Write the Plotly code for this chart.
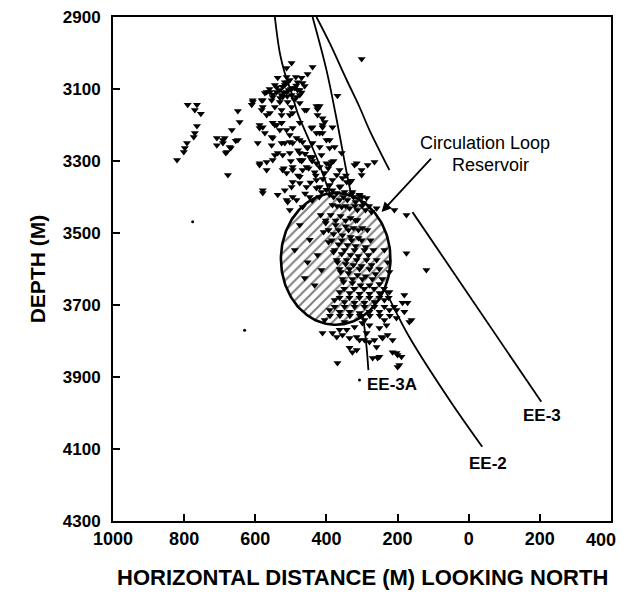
import numpy as np
import plotly.graph_objects as go

# ---------------- data (distance in m: positive = left of origin, depth in m) -------------
west_dist = [790, 764, 770, 753, 764, 770, 773, 792, 798, 801, 820,
             649, 644, 666, 708, 686, 708, 691, 655, 649, 669, 683, 677, 691, 680, 672]
west_depth = [3144, 3144, 3158, 3169, 3203, 3222, 3233, 3250, 3264, 3275, 3297,
              3161, 3192, 3214, 3236, 3236, 3256, 3250, 3244, 3242, 3264, 3278, 3339, 3242, 3275, 3261]

upper_dist = [301, 498, 512, 439, 453, 537, 509, 481, 467, 523, 495, 475, 540, 512, 573, 551, 526, 498,
              484, 582, 554, 531, 509, 369, 607, 579, 545, 498, 461, 428, 425, 568, 559, 526, 503, 411,
              405, 579, 540, 495, 442,
              517, 503, 489, 531, 545, 475, 486, 523, 506, 559, 461, 470,
              610, 607, 579, 582, 588, 568, 526, 495, 475, 456, 526, 551, 512, 475, 439, 419, 425, 411, 383,
              512, 481, 517,
              560, 540, 520, 500, 485, 530, 510, 490, 550, 470]
upper_depth = [3017, 3028, 3042, 3039, 3058, 3069, 3081, 3081, 3083, 3094, 3097, 3103, 3108, 3108, 3111,
               3122, 3117, 3117, 3122, 3131, 3131, 3136, 3136, 3119, 3136, 3150, 3150, 3150, 3158, 3147,
               3156, 3172, 3167, 3172, 3172, 3181, 3192, 3206, 3200, 3208, 3208,
               3089, 3075, 3097, 3103, 3089, 3117, 3067, 3122, 3103, 3108, 3092, 3069,
               3144, 3131, 3131, 3158, 3200, 3108, 3158, 3167, 3139, 3158, 3194, 3194, 3214, 3194, 3206,
               3147, 3172, 3206, 3206,
               3067, 3103, 3081,
               3100, 3095, 3110, 3100, 3090, 3125, 3120, 3130, 3115, 3110]

middle_dist = [588, 573, 545, 526, 531, 503, 484, 495, 467, 453, 554, 593, 554, 526, 537, 523, 503, 475,
               467, 447, 428, 414, 400, 385, 411, 419, 391, 377, 357, 588, 568, 523, 495, 467, 433, 405,
               371, 355, 315, 301, 284, 265, 579, 579, 537, 517, 495, 475, 456, 428, 414, 509, 503, 484,
               467, 447, 391, 363, 335, 327, 307, 287, 259, 209, 175,
               588, 568, 551, 517, 551, 503, 475, 456, 439, 419, 400, 391, 428, 411, 545, 439, 475, 495,
               456, 419, 391, 363, 512, 475, 428, 383, 343, 498, 419, 383, 495, 512, 321, 301,
               480, 460, 440, 470, 450, 430, 410, 445, 400, 380, 395, 500, 520, 480, 460, 440, 420, 360,
               345, 330]
middle_depth = [3208, 3222, 3200, 3194, 3214, 3228, 3236, 3250, 3247, 3264, 3233, 3250, 3256, 3250, 3278,
                3283, 3278, 3278, 3297, 3289, 3306, 3283, 3306, 3303, 3200, 3222, 3242, 3261, 3278, 3306,
                3303, 3325, 3325, 3325, 3331, 3333, 3339, 3347, 3306, 3325, 3311, 3303, 3381, 3389, 3394,
                3381, 3358, 3361, 3372, 3375, 3386, 3414, 3436, 3408, 3428, 3400, 3367, 3372, 3361, 3386,
                3394, 3403, 3431, 3436, 3450,
                3311, 3325, 3297, 3250, 3236, 3247, 3242, 3261, 3250, 3261, 3242, 3264, 3222, 3222, 3283,
                3289, 3297, 3317, 3317, 3317, 3311, 3325, 3333, 3344, 3353, 3353, 3358, 3372, 3372, 3381,
                3400, 3408, 3311, 3339,
                3270, 3280, 3300, 3300, 3320, 3340, 3350, 3360, 3380, 3300, 3320, 3300, 3320, 3340, 3390,
                3410, 3400, 3370, 3340, 3355]

reservoir_dist = [391, 371, 349, 329, 307, 363, 341, 318, 296, 383, 357, 335, 313, 290, 273,
                  416, 388, 360, 332, 313, 402, 374, 346, 324, 299, 408, 380, 355, 332, 310, 394, 366, 341,
                  318, 290, 380, 357, 332, 310, 282, 369, 346, 324, 301, 273, 360, 338, 313, 290, 262, 352,
                  327, 304, 279, 251,
                  475, 447, 425, 453, 414, 433, 489, 461,
                  363, 335, 307, 279, 251, 223, 377, 349, 321, 293, 265, 237, 391, 363, 335, 307, 279, 251,
                  223, 405, 349, 293, 237, 203,
                  237, 228, 223,
                  402, 374, 346, 318, 394, 366, 338, 310, 285, 385, 357, 329, 301, 276, 377, 349, 321, 293,
                  268, 371, 343, 315, 287, 259, 363, 335, 307, 279, 251, 355, 327, 299, 271, 243,
                  380, 352, 324, 300, 370, 346, 320, 300, 280,
                  350, 322, 294, 266, 238, 363, 335, 307, 279, 251, 225, 377, 349, 321, 293, 265, 237, 210,
                  390, 362, 334, 306, 278, 250, 222]
reservoir_depth = [3394, 3389, 3386, 3392, 3397, 3408, 3408, 3414, 3417, 3422, 3428, 3431, 3436, 3436, 3442,
                   3450, 3450, 3453, 3458, 3464, 3472, 3478, 3481, 3486, 3486, 3497, 3503, 3506, 3511, 3514,
                   3525, 3531, 3533, 3536, 3539, 3553, 3558, 3561, 3564, 3561, 3581, 3586, 3589, 3592, 3589,
                   3608, 3611, 3617, 3620, 3614, 3636, 3639, 3645, 3645, 3642,
                   3478, 3519, 3561, 3581, 3603, 3645, 3547, 3625,
                   3664, 3667, 3669, 3669, 3667, 3664, 3686, 3692, 3694, 3694, 3692, 3686, 3714, 3719, 3719,
                   3722, 3719, 3719, 3714, 3742, 3747, 3742, 3742, 3736,
                   3547, 3581, 3608,
                   3465, 3465, 3465, 3465, 3492, 3492, 3492, 3492, 3492, 3520, 3520, 3520, 3520, 3520, 3547,
                   3547, 3547, 3547, 3547, 3575, 3575, 3575, 3575, 3575, 3600, 3600, 3600, 3600, 3600, 3628,
                   3628, 3628, 3628, 3628,
                   3400, 3400, 3400, 3400, 3425, 3425, 3425, 3425, 3425,
                   3655, 3655, 3655, 3655, 3655, 3680, 3680, 3680, 3680, 3680, 3680, 3705, 3705, 3705, 3705,
                   3705, 3705, 3705, 3730, 3730, 3730, 3730, 3730, 3730, 3730]

lower_dist = [175, 119, 181, 186, 411, 172, 181, 161, 369, 335, 315, 293, 259, 242, 214, 203, 195, 189,
              270, 256, 371, 355, 315, 203, 167, 327, 279, 265, 245, 228, 214, 200, 200, 251, 383, 363,
              343, 321, 299, 279, 251, 231, 307, 287, 335]
lower_depth = [3556, 3603, 3672, 3694, 3778, 3694, 3719, 3742, 3861, 3819, 3825, 3797, 3817, 3792, 3797,
               3833, 3867, 3844, 3847, 3847, 3789, 3783, 3789, 3714, 3747, 3831, 3803, 3797, 3789, 3783,
               3831, 3839, 3872, 3844, 3778, 3769, 3769, 3761, 3750, 3756, 3764, 3756, 3797, 3778, 3792]

speck_dist = [776, 630, 307]
speck_depth = [3469, 3770, 3908]

# well trajectories
ee3a_dist = [545, 531, 517, 498, 481, 461, 425, 397, 363, 335, 313, 296, 287, 282]
ee3a_depth = [2900, 3000, 3056, 3111, 3167, 3214, 3297, 3372, 3464, 3561, 3658, 3742, 3819, 3881]
ee2_dist = [439, 400, 371, 335, 301, 265, 231, 167, 54, -38]
ee2_depth = [2900, 3047, 3186, 3372, 3519, 3603, 3667, 3789, 3964, 4094]
ee3_upper_dist = [428, 391, 343, 307, 279, 223]
ee3_upper_depth = [2900, 2972, 3075, 3150, 3214, 3325]
ee3_lower_dist = [158, -204]
ee3_lower_depth = [3442, 3969]

# reservoir ellipse parameters
res_center = (374, 3572)
res_semi = (154, 183)

x_ticks = [1000, 800, 600, 400, 200, 0, -200, -400]
x_tick_text = ["1000", "800", "600", "400", "200", "0", "200", "400"]
y_ticks = [2900, 3100, 3300, 3500, 3700, 3900, 4100, 4300]

FONT = "Liberation Sans, Arial, sans-serif"

fig = go.Figure()

for xd, yd in [(ee3a_dist, ee3a_depth), (ee2_dist, ee2_depth),
               (ee3_upper_dist, ee3_upper_depth), (ee3_lower_dist, ee3_lower_depth)]:
    fig.add_trace(go.Scatter(x=xd, y=yd, mode="lines", line=dict(color="black", width=1.8, shape="spline"),
                             hoverinfo="skip", showlegend=False))

t = np.linspace(0, 2 * np.pi, 181)
ex = res_center[0] + res_semi[0] * np.cos(t)
ey = res_center[1] + res_semi[1] * np.sin(t)
fig.add_trace(go.Scatter(x=ex, y=ey, mode="lines", fill="toself",
                         line=dict(color="black", width=2.6),
                         fillcolor="white",
                         fillpattern=dict(shape="/", size=7, solidity=0.28, fgcolor="black", bgcolor="white"),
                         hoverinfo="skip", showlegend=False))

ev_x = west_dist + upper_dist + middle_dist + reservoir_dist + lower_dist
ev_y = west_depth + upper_depth + middle_depth + reservoir_depth + lower_depth
fig.add_trace(go.Scatter(x=ev_x, y=ev_y, mode="markers",
                         marker=dict(symbol="triangle-down", size=7, color="black", line=dict(width=0)),
                         showlegend=False))
fig.add_trace(go.Scatter(x=speck_dist, y=speck_depth, mode="markers",
                         marker=dict(symbol="circle", size=3, color="black"), showlegend=False))

# all x tick labels except the last, which is placed as an annotation so it stays inside the page
shown_tick_text = ["<b>%s</b>" % s for s in x_tick_text[:-1]] + [""]

annots = [
    dict(x=245, y=3442, ax=102, ay=3289, xref="x", yref="y", axref="x", ayref="y", text="",
         showarrow=True, arrowhead=2, arrowsize=1.1, arrowwidth=1.8, arrowcolor="black"),
    dict(x=-47, y=3250, text="Circulation Loop", showarrow=False, font=dict(size=18, family=FONT, color="black")),
    dict(x=-61, y=3311, text="Reservoir", showarrow=False, font=dict(size=18, family=FONT, color="black")),
    dict(x=217, y=3920, text="<b>EE-3A</b>", showarrow=False, font=dict(size=17, family=FONT, color="black")),
    dict(x=-55, y=4139, text="<b>EE-2</b>", showarrow=False, font=dict(size=17, family=FONT, color="black")),
    dict(x=-207, y=4008, text="<b>EE-3</b>", showarrow=False, font=dict(size=17, family=FONT, color="black")),
    dict(x=x_ticks[-1], y=0, xref="x", yref="paper", text="<b>%s</b>" % x_tick_text[-1], showarrow=False,
         xanchor="right", yanchor="top", xshift=7, yshift=-7,
         font=dict(size=18, family=FONT, color="black")),
    dict(x=0.5, y=-0.113, xref="paper", yref="paper", text="<b>HORIZONTAL DISTANCE (M) LOOKING NORTH</b>",
         showarrow=False, font=dict(size=22, family=FONT, color="black"), yanchor="middle"),
    dict(x=-0.152, y=0.5, xref="paper", yref="paper", text="<b>DEPTH (M)</b>", textangle=-90,
         showarrow=False, font=dict(size=21, family=FONT, color="black"), xanchor="center"),
]

fig.update_layout(
    width=620, height=586,
    margin=dict(l=105, r=17, t=9, b=73, autoexpand=False),
    paper_bgcolor="white", plot_bgcolor="white",
    annotations=annots,
    xaxis=dict(range=[1000, -400], tickvals=x_ticks, ticktext=shown_tick_text,
               showgrid=False, zeroline=False, showline=True, linecolor="black", linewidth=2, mirror=True,
               ticks="inside", ticklen=7, tickwidth=1.5, tickcolor="black", ticklabeloverflow="allow",
               automargin=False,
               tickfont=dict(size=18, family=FONT, color="black")),
    yaxis=dict(range=[4300, 2900], tickvals=y_ticks, ticktext=["<b>%d</b>" % v for v in y_ticks],
               showgrid=False, zeroline=False, showline=True, linecolor="black", linewidth=2, mirror=True,
               ticks="inside", ticklen=7, tickwidth=1.5, tickcolor="black", ticklabelstandoff=7,
               ticklabeloverflow="allow", automargin=False,
               tickfont=dict(size=17, family=FONT, color="black")),
    font=dict(family=FONT, color="black"),
)

fig.write_html("out.html")
